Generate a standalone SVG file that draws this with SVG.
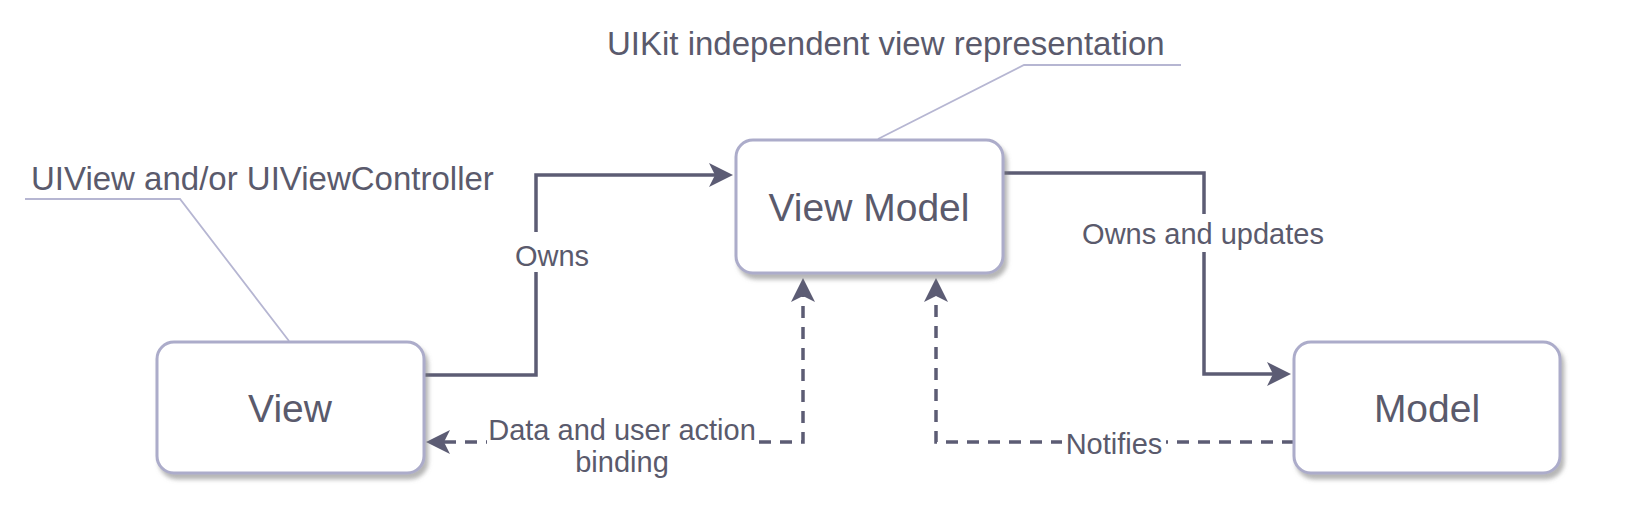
<svg xmlns="http://www.w3.org/2000/svg" width="1628" height="514" viewBox="0 0 1628 514">
  <style>
    .node rect { fill: #ffffff; stroke: #acacca; stroke-width: 3; }
    .ntext { font-family: "Liberation Sans", Arial, sans-serif; font-size: 39px; fill: #5a5a6c; text-anchor: middle; }
    .call { font-family: "Liberation Sans", Arial, sans-serif; font-size: 33px; fill: #5a5a6c; }
    .elabel { font-family: "Liberation Sans", Arial, sans-serif; font-size: 29px; fill: #5a5a6c; text-anchor: middle; }
    .solid { fill: none; stroke: #5c5c74; stroke-width: 3.5; }
    .dash { fill: none; stroke: #5c5c74; stroke-width: 3.5; stroke-dasharray: 12 9; }
    .cline { fill: none; stroke: #b6b6d2; stroke-width: 1.8; }
    .bg { fill: #ffffff; }
  </style>
  <defs>
    <filter id="sh" x="-10%" y="-10%" width="130%" height="130%">
      <feDropShadow dx="3" dy="5" stdDeviation="2" flood-color="#7a7a7a" flood-opacity="0.55"/>
    </filter>
    <marker id="arr" markerUnits="userSpaceOnUse" markerWidth="26" markerHeight="26" refX="6" refY="12" orient="auto" viewBox="0 0 26 26">
      <path d="M0,0 L24,12 L0,24 L6,12 Z" fill="#5c5c74"/>
    </marker>
    <marker id="arrs" markerUnits="userSpaceOnUse" markerWidth="26" markerHeight="26" refX="6" refY="12" orient="auto-start-reverse" viewBox="0 0 26 26">
      <path d="M0,0 L24,12 L0,24 L6,12 Z" fill="#5c5c74"/>
    </marker>
  </defs>

  <g id="callouts">
    <text class="call" x="607" y="55">UIKit independent view representation</text>
    <polyline class="cline" points="1181,65 1024,65 878,139"/>
    <text class="call" x="31" y="190">UIView and/or UIViewController</text>
    <polyline class="cline" points="25,199 180,199 289,341"/>
  </g>

  <g id="connectors">
    <g id="e-owns">
      <path class="solid" d="M424,375 H536 V175 H715" marker-end="url(#arr)"/>
      <rect class="bg" x="514" y="232" width="76" height="40"/>
      <text class="elabel" x="552" y="266">Owns</text>
    </g>
    <g id="e-owns-updates">
      <path class="solid" d="M1003,173 H1204 V374 H1273" marker-end="url(#arr)"/>
      <rect class="bg" x="1080" y="214" width="246" height="38"/>
      <text class="elabel" x="1203" y="244">Owns and updates</text>
    </g>
    <g id="e-binding">
      <path class="dash" d="M444,442 H803 V296" marker-start="url(#arrs)" marker-end="url(#arr)"/>
      <rect class="bg" x="487" y="416" width="272" height="64"/>
      <text class="elabel" x="622" y="440">Data and user action</text>
      <text class="elabel" x="622" y="472">binding</text>
    </g>
    <g id="e-notifies">
      <path class="dash" d="M1294,442 H936 V296" marker-end="url(#arr)"/>
      <rect class="bg" x="1062" y="422" width="104" height="40"/>
      <text class="elabel" x="1114" y="454">Notifies</text>
    </g>
  </g>

  <g id="node-view" class="node">
    <rect x="157" y="342" width="267" height="131" rx="17" filter="url(#sh)"/>
    <text class="ntext" x="290" y="422">View</text>
  </g>
  <g id="node-viewmodel" class="node">
    <rect x="736" y="140" width="267" height="133" rx="17" filter="url(#sh)"/>
    <text class="ntext" x="869" y="221">View Model</text>
  </g>
  <g id="node-model" class="node">
    <rect x="1294" y="342" width="266" height="131" rx="17" filter="url(#sh)"/>
    <text class="ntext" x="1427" y="422">Model</text>
  </g>
</svg>
